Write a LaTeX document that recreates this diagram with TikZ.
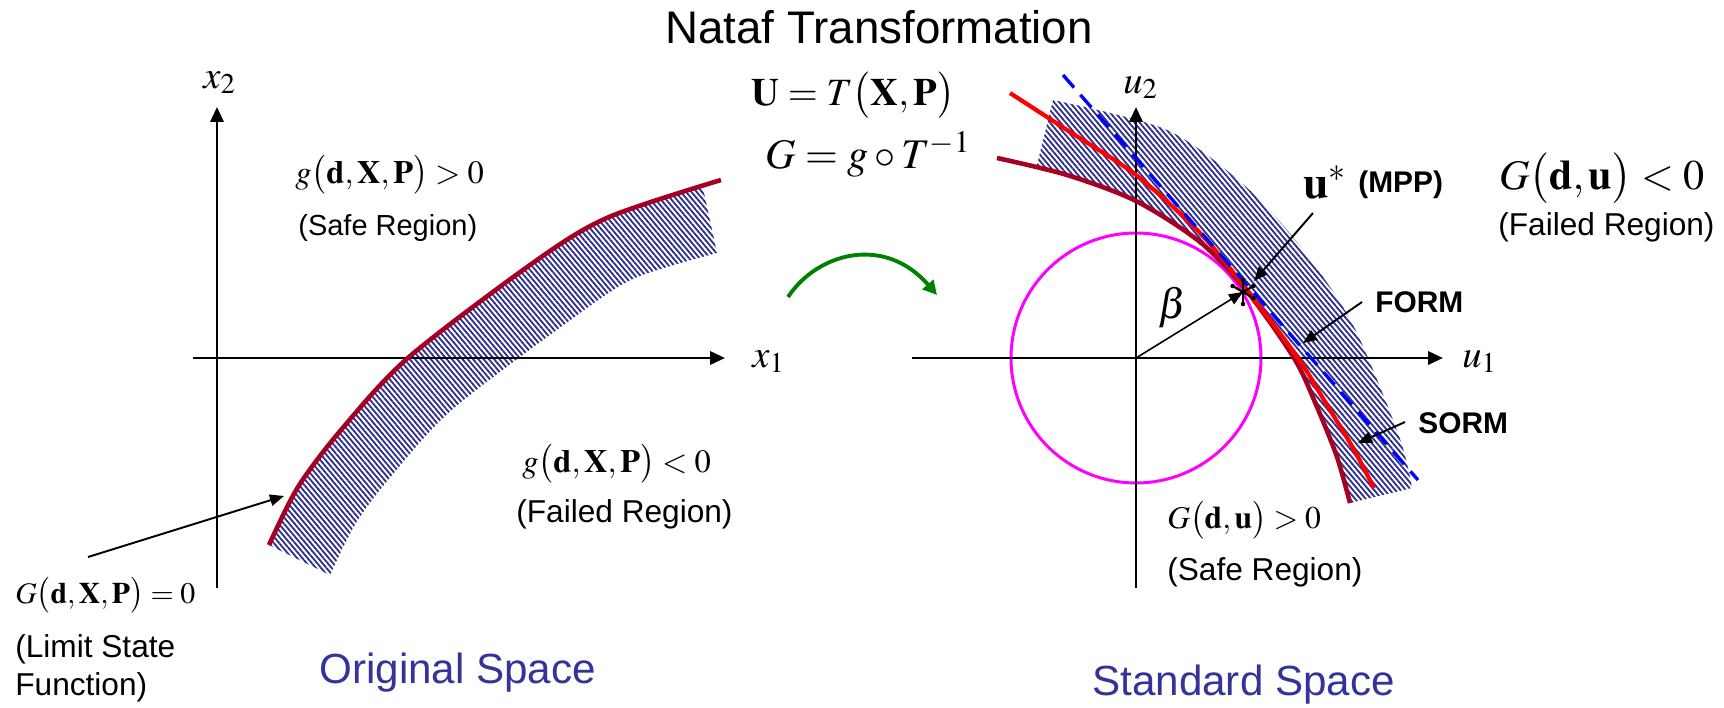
\documentclass[tikz,border=0pt]{standalone}
\usepackage{mathptmx}
\usepackage[no-math]{fontspec}
\setmainfont{Liberation Sans}
\usetikzlibrary{arrows.meta,positioning,calc,patterns.meta}
\definecolor{LimitRed}{HTML}{A50021}
\definecolor{HatchBlue}{HTML}{2E2E8C}
\definecolor{SpaceBlue}{HTML}{333399}
\definecolor{CircMag}{HTML}{FF00FF}
\definecolor{ArcGreen}{HTML}{008000}

\begin{document}
\begin{tikzpicture}[
  x=0.02cm, y=-0.02cm,
  axis/.style={line width=1.6pt, -{Triangle[length=8.5pt,width=7.5pt]}},
  pointer/.style={line width=1.1pt, -{Triangle[length=8pt,width=6.5pt]}},
  limit/.style={LimitRed, line width=2.6pt},
  approx/.style={red, line width=2.4pt},
  band/.style={pattern={Lines[angle=-50,distance=2.3pt,line width=1.05pt]}, pattern color=HatchBlue},
  lbl/.style={inner sep=0pt, anchor=base west},
  region/.style={lbl, font=\fontsize{18}{21}\selectfont},
  formula/.style={lbl, font=\fontsize{18.5}{22}\selectfont},
  axlabel/.style={lbl, font=\fontsize{22}{26}\selectfont},
  method/.style={lbl, font=\fontsize{17}{20}\selectfont\bfseries},
  space/.style={lbl, text=SpaceBlue, font=\fontsize{24}{28}\selectfont}
]
\useasboundingbox (0,0) rectangle (1724,707);

\node[lbl, font=\fontsize{26}{30}\selectfont] (title) at (665,43) {Nataf Transformation};
\node[lbl, font=\fontsize{22}{26}\selectfont] (ueq) at (751,105) {$\mathbf{U}=T\bigl(\mathbf{X},\mathbf{P}\bigr)$};
\node[lbl, font=\fontsize{24}{28}\selectfont] (geq) at (765,168) {$G=g\circ T^{-1}$};

\coordinate (o1) at (217,358);
\coordinate (x1a) at (193,358);
\coordinate (x1b) at (725,358);
\coordinate (x2a) at (217,588);
\coordinate (x2b) at (217,107);

\fill[band] plot[smooth] coordinates {(269,545) (298,487) (341,430) (409,357) (537,260) (609,217) (703,188)}
  -- plot[smooth] coordinates {(717,253) (635,278) (576,316) (454,408) (393,474) (356,523) (330,575)} -- cycle;
\draw[axis] (x1a) -- (x1b);
\draw[axis] (x2a) -- (x2b);
\draw[limit] plot[smooth] coordinates {(269,545) (298,487) (341,430) (409,357) (537,260) (609,217) (721,180)};

\node[axlabel] (x2) at (203,88) {$x_2$};
\node[axlabel] (x1) at (752,367) {$x_1$};
\node[formula] (gsafe) at (295,183) {$g\bigl(\mathbf{d},\mathbf{X},\mathbf{P}\bigr)>0$};
\node[region, font=\fontsize{16.5}{20}\selectfont] (safe1) at (298,235) {(Safe Region)};
\node[formula] (gfail) at (522,472) {$g\bigl(\mathbf{d},\mathbf{X},\mathbf{P}\bigr)<0$};
\node[region] (fail1) at (516,522) {(Failed Region)};
\node[formula, font=\fontsize{17}{20}\selectfont] (glsf) at (15,603) {$G\bigl(\mathbf{d},\mathbf{X},\mathbf{P}\bigr)=0$};
\node[region] (lsf1) at (15,657) {(Limit State};
\node[region] (lsf2) at (15,695) {Function)};
\coordinate (lsfa) at (88,557);
\coordinate (lsfb) at (284,496);
\draw[pointer] (lsfa) -- (lsfb);
\node[space] (orig) at (319,683) {Original Space};

\coordinate (arca) at (788,297);
\coordinate (arcb) at (937,295);
\draw[ArcGreen, line width=2.2pt, -{Triangle[length=8pt,width=8pt]}]
  (arca) .. controls (818,252) and (885,235) .. (arcb);

\coordinate (o2) at (1136,358);
\coordinate (u1a) at (912,358);
\coordinate (u1b) at (1443,358);
\coordinate (u2a) at (1136,588);
\coordinate (u2b) at (1136,107);
\coordinate (mpp) at (1243,292);
\coordinate (fa) at (1063,75);
\coordinate (fb) at (1418,480);

\draw[CircMag, line width=1.7pt] (o2) circle[radius=2.5cm];
\fill[band] plot[smooth] coordinates {(1037,165) (1067,175) (1136,201) (1200,242) (1246,290) (1294,358) (1317,407) (1337,457) (1350,503)}
  -- plot[smooth] coordinates {(1412,488) (1399,436) (1352,323) (1300,246) (1245,186) (1167,130) (1053,100)} -- cycle;
\draw[axis] (u1a) -- (u1b);
\draw[axis] (u2a) -- (u2b);
\draw[limit] plot[smooth] coordinates {(997,158) (1067,175) (1136,201) (1200,242) (1246,290) (1294,358) (1317,407) (1337,457) (1350,503)};
\draw[approx] plot[smooth] coordinates {(1010,93) (1067,130) (1136,175) (1200,233) (1247,290) (1298,358) (1327,405) (1353,448) (1374,488)};
\draw[blue, line width=1.9pt, dash pattern=on 9.5pt off 5.5pt] (fa) -- (fb);

\draw[pointer, line width=0.9pt] (o2) -- (mpp);
\foreach \a in {30,90,150} {
  \draw[line width=1.2pt] ($(mpp)+(\a:12)$) -- ($(mpp)+(\a+180:12)$);
  \fill ($(mpp)+(\a:12)$) circle[radius=1.3pt];
  \fill ($(mpp)+(\a+180:12)$) circle[radius=1.3pt];
}

\node[axlabel] (u2) at (1123,93) {$u_2$};
\node[axlabel] (u1) at (1462,367) {$u_1$};
\node[lbl, font=\fontsize{24}{28}\selectfont] (beta) at (1158,318) {$\beta$};
\node[lbl, font=\fontsize{26}{30}\selectfont] (ustar) at (1303,198) {$\mathbf{u}^{*}$};
\node[method] (mpplbl) at (1358,192) {(MPP)};
\node[method] (form) at (1375,312) {FORM};
\node[method] (sorm) at (1418,433) {SORM};
\coordinate (ustara) at (1313,213);
\coordinate (ustarb) at (1254,281);
\coordinate (forma) at (1362,302);
\coordinate (formb) at (1303,343);
\coordinate (sorma) at (1405,422);
\coordinate (sormb) at (1358,443);
\draw[pointer] (ustara) -- (ustarb);
\draw[pointer] (forma) -- (formb);
\draw[pointer] (sorma) -- (sormb);

\node[lbl, font=\fontsize{24}{28}\selectfont] (gfail2) at (1499,189) {$G\bigl(\mathbf{d},\mathbf{u}\bigr)<0$};
\node[region] (fail2) at (1498,235) {(Failed Region)};
\node[formula, font=\fontsize{18}{21}\selectfont] (gsafe2) at (1167,528) {$G\bigl(\mathbf{d},\mathbf{u}\bigr)>0$};
\node[region] (safe2) at (1167,580) {(Safe Region)};
\node[space] (std) at (1092,695) {Standard Space};
\end{tikzpicture}
\end{document}
